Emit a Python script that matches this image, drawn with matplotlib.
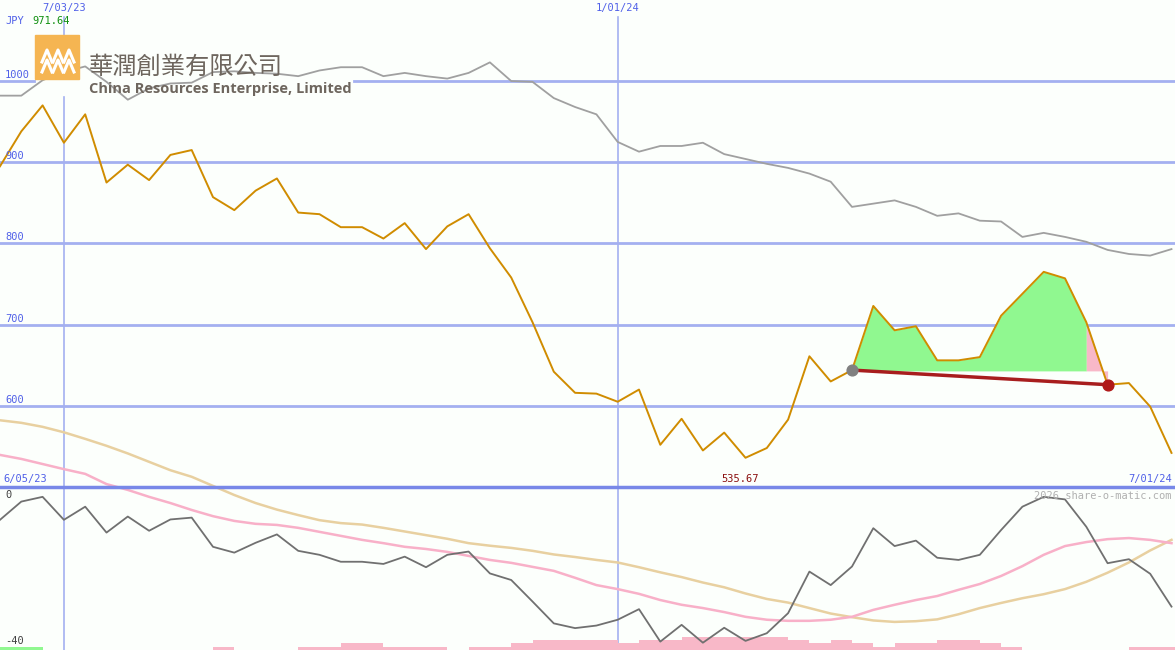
import matplotlib
matplotlib.use("Agg")
import matplotlib.pyplot as plt
from matplotlib.patches import Rectangle

price = [895, 938, 970, 924, 959, 875, 897, 878, 909, 915, 857, 841, 865, 880, 838, 836, 820, 820,
         806, 825, 793, 821, 836, 794, 758, 703, 642, 616, 615, 605, 620, 552, 584, 545, 567, 536,
         548, 583, 661, 630, 644, 723, 693, 698, 656, 656, 660, 711, 738, 765, 757, 703, 626, 628,
         599, 542]
relative = [982, 982, 1001, 1011, 1018, 999, 977, 991, 997, 998, 1011, 1012, 1010, 1009, 1006, 1013,
            1017, 1017, 1006, 1010, 1006, 1003, 1010, 1023, 1000, 999, 979, 968, 959, 925, 913, 920,
            920, 924, 910, 904, 898, 893, 886, 876, 845, 849, 853, 845, 834, 837, 828, 827, 808, 813,
            808, 802, 792, 787, 785, 793]
osc = [-6.8, -1.8, -0.5, -6.8, -3.2, -10.3, -5.9, -9.8, -6.7, -6.2, -14.2, -15.8, -13.1, -10.8,
       -15.3, -16.4, -18.3, -18.3, -18.9, -16.9, -19.8, -16.4, -15.5, -21.5, -23.3, -29.2, -35.2,
       -36.5, -35.8, -34.2, -31.3, -40.2, -35.6, -40.5, -36.4, -40.0, -37.9, -32.4, -21.0, -24.7,
       -19.6, -9.1, -14.0, -12.5, -17.2, -17.8, -16.4, -9.6, -3.2, -0.5, -1.2, -8.7, -18.7, -17.6,
       -21.6, -30.6]
ma_fast = [11, 9.9, 8.5, 7.1, 5.8, 3, 1.4, -0.5, -2.2, -4.1, -5.8, -7.1, -7.9, -8.2, -9, -10.1,
           -11.2, -12.3, -13.2, -14.2, -14.8, -15.6, -16.7, -17.8, -18.6, -19.7, -20.8, -22.7,
           -24.7, -25.8, -27.1, -28.8, -30.1, -31, -32.1, -33.4, -34.2, -34.5, -34.5, -34.2, -33.4,
           -31.5, -30.1, -28.8, -27.7, -26, -24.4, -22.2, -19.5, -16.4, -14, -12.9, -12.1, -11.8,
           -12.3, -13.2]
ma_slow = [20.5, 19.8, 18.7, 17.2, 15.4, 13.5, 11.4, 9.1, 6.8, 5.0, 2.5, 0, -2.2, -4, -5.5, -6.9,
           -7.7, -8.1, -9, -10, -11, -12, -13.2, -13.9, -14.5, -15.3, -16.3, -17, -17.8, -18.5,
           -19.8, -21.2, -22.5, -24, -25.3, -27, -28.5, -29.5, -31, -32.5, -33.5, -34.4, -34.8,
           -34.6, -34.1, -32.7, -31, -29.6, -28.3, -27.2, -25.8, -23.8, -21.3, -18.5, -15.2, -12.3]
bar_level = [0, 0, 0, 0, 0, 0, 0, 0, 0, 0, 1, 0, 0, 0, 1, 1, 2, 2, 1, 1, 1, 0, 1, 1, 2, 3, 3, 3,
             3, 2, 3, 3, 4, 4, 4, 4, 4, 3, 2, 3, 2, 1, 2, 2, 3, 3, 2, 1, 0, 0, 0, 0, 0, 1, 1, 1]
green_bar = [1, 1]
date_labels = ["7/03/23", "1/01/24"]
date_idx = [3, 29]
price_ticks = [600, 700, 800, 900, 1000]
pat_start, pat_end = 40, 52
base_level = 643

n = len(price)
xs = list(range(n))
W, H = 1175, 650
PX = 21.3
fig = plt.figure(figsize=(W / 100, H / 100), dpi=100)
fig.patch.set_facecolor("#fcfffc")
xmax = W / PX

ax1 = fig.add_axes([0, (H - 487) / H, 1, 487 / H])
ax1.set_xlim(0, xmax); ax1.set_ylim(500, 1099.8); ax1.axis("off")
ax1.patch.set_alpha(0)
ax2 = fig.add_axes([0, 0, 1, (H - 487) / H])
ax2.set_xlim(0, xmax); ax2.set_ylim(-42.5, 2.2); ax2.axis("off")
ax2.patch.set_alpha(0)

grid = "#a4b0f0"
for t in price_ticks:
    if t == 1000:
        ax1.plot([0, 34 / PX], [t, t], color=grid, lw=2, zorder=1)
        ax1.plot([354 / PX, xmax], [t, t], color=grid, lw=2, zorder=1)
    else:
        ax1.axhline(t, color=grid, lw=2, zorder=1)
ax1.plot([date_idx[0]] * 2, [500, 1099.8 - 97 / 0.812 + 0], color=grid, lw=1.2, zorder=1)
ax1.plot([date_idx[0]] * 2, [1099.8 - 17 / 0.812, 1099.8 - 35 / 0.812], color=grid, lw=1.2, zorder=1)
ax1.plot([date_idx[1]] * 2, [500, 1099.8 - 17 / 0.812], color=grid, lw=1.2, zorder=1)
for d in date_idx:
    ax2.axvline(d, color=grid, lw=1.2, zorder=1)

ax1.plot(xs, relative, color="#a0a0a0", lw=1.3, zorder=3)
gy = price[pat_start:pat_end]
ax1.fill_between(xs[pat_start:pat_end], gy, base_level, color="#90f890", lw=0, zorder=2)
ax1.fill_between(xs[pat_end - 1:pat_end + 1], price[pat_end - 1:pat_end + 1], base_level,
                 color="#f8b8c8", lw=0, zorder=2, interpolate=True)
ax1.plot(xs, price, color="#d08c00", lw=1.4, zorder=4)
ax1.plot([pat_start, pat_end], [price[pat_start], price[pat_end]], color="#a81e1e", lw=2.5, zorder=5)
ax1.scatter([pat_start], [price[pat_start]], s=60, color="#808080", zorder=6)
ax1.scatter([pat_end], [price[pat_end]], s=60, color="#b01818", zorder=6)

ax2.plot(xs, ma_slow, color="#e8d0a0", lw=1.8, zorder=3, clip_on=False)
ax2.plot(xs, ma_fast, color="#f8b0c8", lw=1.8, zorder=3, clip_on=False)
ax2.plot(xs, osc, color="#707070", lw=1.3, zorder=4)
ax2.bar([i + 0.5 for i in xs], [l * 0.9 for l in bar_level], bottom=-42.5, width=1.0,
        color="#f8b8c8", zorder=2)
ax2.bar([i + 0.5 for i in range(len(green_bar))], [l * 0.9 for l in green_bar], bottom=-42.5,
        width=1.0, color="#90f890", zorder=2)

ov = fig.add_axes([0, 0, 1, 1], zorder=10)
ov.set_xlim(0, W); ov.set_ylim(H, 0); ov.axis("off"); ov.patch.set_alpha(0)
ov.plot([0, W], [487, 487], color="#7888e8", lw=2.5)
ov.add_patch(Rectangle((35, 35), 44, 44, color="#f5b552", zorder=2))
for k in range(3):
    x0 = 42 + k * 11
    for yy in (55, 65):
        ov.plot([x0, x0 + 5, x0 + 10], [yy + 7, yy - 5, yy + 7], color="white", lw=2.2, zorder=3)
ov.text(89, 67, "華潤創業有限公司", family=["Noto Sans CJK TC", "DejaVu Sans"], fontsize=17.5,
        color="#6e665e", va="center", ha="left", zorder=4)
ov.text(89, 89, "China Resources Enterprise, Limited", family="Open Sans", fontsize=10.5,
        fontweight="bold", color="#6e665e", va="center", ha="left", zorder=4)

mono = dict(family="DejaVu Sans Mono", fontsize=7.5)
blue = "#5060e8"
for d, lab in zip(date_idx, date_labels):
    ov.text(d * PX, 8, lab, color=blue, ha="center", va="center", **mono)
ov.text(5, 21, "JPY", color=blue, ha="left", va="center", **mono)
ov.text(32, 21, "971.64", color="#109010", ha="left", va="center", **mono)
for t in price_ticks:
    y = 81 + (1000 - t) * 0.812
    ov.text(5, y - 6, str(t), color=blue, ha="left", va="center", **mono)
ov.text(3, 479, "6/05/23", color=blue, ha="left", va="center", **mono)
ov.text(740, 479, "535.67", color="#8b1010", ha="center", va="center", **mono)
ov.text(1172, 479, "7/01/24", color=blue, ha="right", va="center", **mono)
ov.text(5, 495, "0", color="#404040", ha="left", va="center", **mono)
ov.text(5, 641, "-40", color="#404040", ha="left", va="center", **mono)
ov.text(1172, 496, "2026 share-o-matic.com", color="#b0b0b0", ha="right", va="center", **mono)

fig.savefig("out.png", dpi=100, facecolor=fig.get_facecolor())
